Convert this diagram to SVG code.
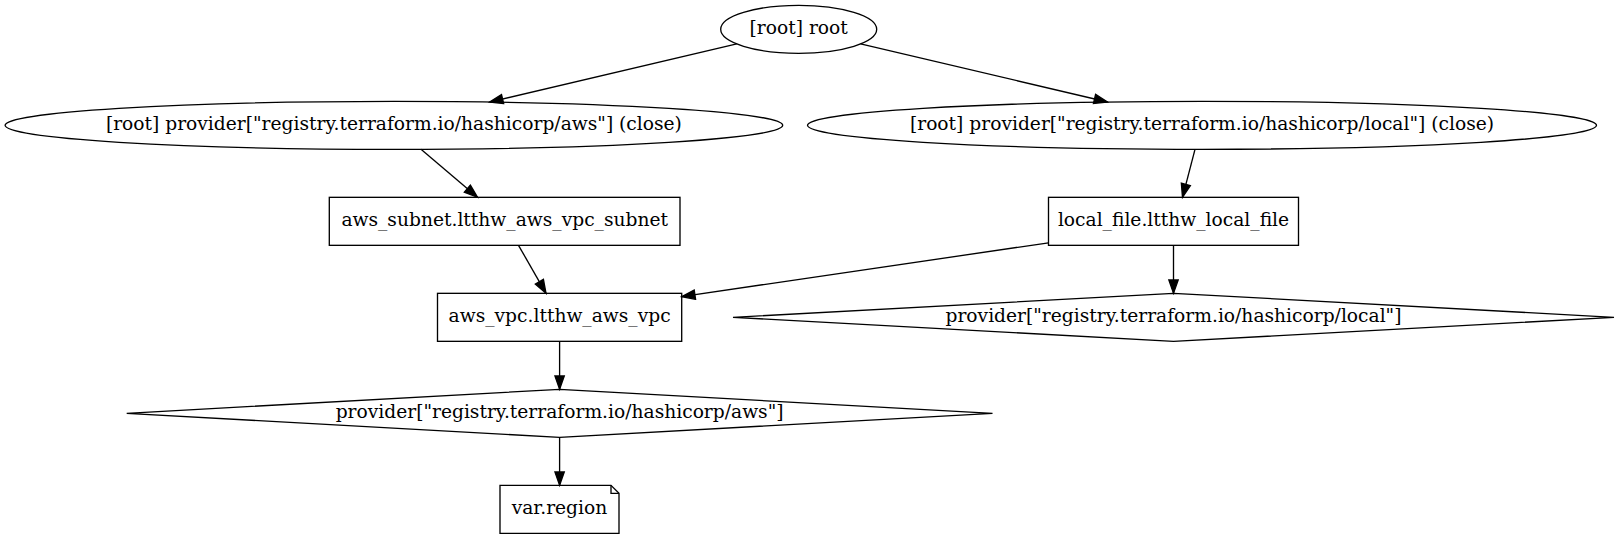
<svg xmlns="http://www.w3.org/2000/svg" width="1620" height="539" viewBox="0 0 1620 539">
<defs>
<marker id="arr" markerUnits="userSpaceOnUse" markerWidth="16" markerHeight="12" refX="13.33" refY="4.67" orient="auto" overflow="visible">
<path d="M0,0 L13.33,4.67 L0,9.33 z" fill="#000" stroke="#000" stroke-width="1.33"/>
</marker>
</defs>
<style>
.n{fill:none;stroke:#000;stroke-width:1.33}
.t{font-family:"DejaVu Serif","Liberation Serif",serif;font-size:18.67px;text-anchor:middle;fill:#000}
.e{fill:none;stroke:#000;stroke-width:1.33;marker-end:url(#arr)}
</style>
<rect width="1620" height="539" fill="#fff"/>
<g id="connectors">
<path class="e" d="M736.8,43.9 L489.6,102.1"/>
<path class="e" d="M860.6,43.9 L1107.5,102.0"/>
<path class="e" d="M421,149.3 L477.5,197.3"/>
<path class="e" d="M518.5,245.3 L546,293.3"/>
<path class="e" d="M1195,149.3 L1182.5,197.3"/>
<path class="e" d="M1048.5,242.8 L681.7,296.6"/>
<path class="e" d="M1173.5,245.3 L1173.5,293.3"/>
<path class="e" d="M559.6,341.3 L559.6,389.3"/>
<path class="e" d="M559.6,437.3 L559.6,485.3"/>
</g>
<g id="root">
<ellipse class="n" cx="798.7" cy="29.33" rx="78" ry="24"/>
<text class="t" x="798.7" y="34.2">[root] root</text>
</g>
<g id="provider_aws_close">
<ellipse class="n" cx="393.9" cy="125.33" rx="388.8" ry="24"/>
<text class="t" x="393.9" y="130.2">[root] provider["registry.terraform.io/hashicorp/aws"] (close)</text>
</g>
<g id="provider_local_close">
<ellipse class="n" cx="1202" cy="125.33" rx="394.5" ry="24"/>
<text class="t" x="1202" y="130.2">[root] provider["registry.terraform.io/hashicorp/local"] (close)</text>
</g>
<g id="aws_subnet">
<rect class="n" x="329.3" y="197.33" width="350.7" height="48"/>
<text class="t" x="504.7" y="226.2">aws_subnet.ltthw_aws_vpc_subnet</text>
</g>
<g id="local_file">
<rect class="n" x="1048.5" y="197.33" width="250" height="48"/>
<text class="t" x="1173.5" y="226.2">local_file.ltthw_local_file</text>
</g>
<g id="aws_vpc">
<rect class="n" x="437.5" y="293.33" width="244.2" height="48"/>
<text class="t" x="559.6" y="322.2">aws_vpc.ltthw_aws_vpc</text>
</g>
<g id="provider_local">
<polygon class="n" points="1173.5,293.33 1614,317.33 1173.5,341.33 733,317.33"/>
<text class="t" x="1173.5" y="322.2">provider["registry.terraform.io/hashicorp/local"]</text>
</g>
<g id="provider_aws">
<polygon class="n" points="559.6,389.33 992.5,413.33 559.6,437.33 126.7,413.33"/>
<text class="t" x="559.6" y="418.2">provider["registry.terraform.io/hashicorp/aws"]</text>
</g>
<g id="var_region">
<polygon class="n" points="500,485.33 611,485.33 619,493.33 619,533.33 500,533.33"/>
<polyline class="n" points="611,485.33 611,493.33 619,493.33"/>
<text class="t" x="559.5" y="514.2">var.region</text>
</g>
</svg>
